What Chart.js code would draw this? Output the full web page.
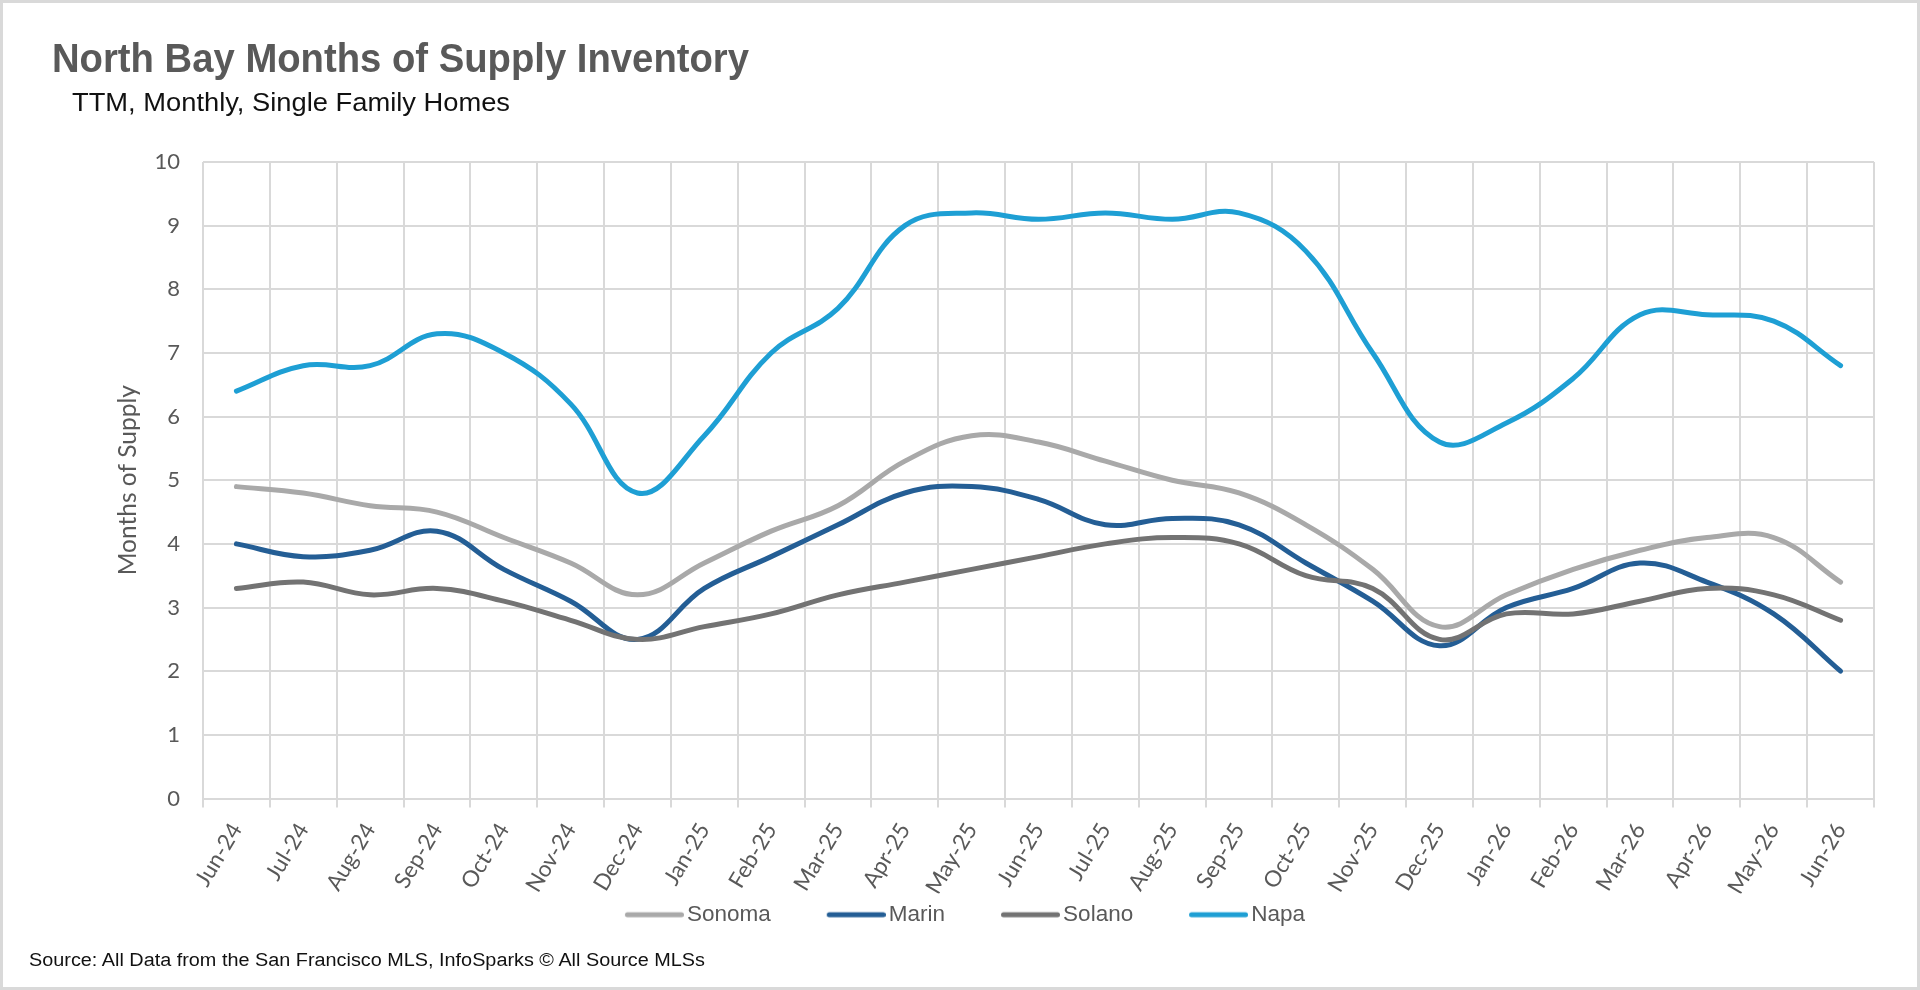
<!DOCTYPE html>
<html>
<head>
<meta charset="utf-8">
<script src="https://cdn.jsdelivr.net/npm/chart.js@4.4.1/dist/chart.umd.min.js"></script>
<style>
  html, body { margin: 0; padding: 0; background: #fff; }
  #frame { position: relative; width: 1920px; height: 990px; overflow: hidden; background: #fff; }
  #c { position: absolute; left: 0; top: 0; }
  #border { position: absolute; left: 0; top: 0; width: 1920px; height: 990px; box-sizing: border-box; border: 3px solid #d9d9d9; pointer-events: none; }
  .t { position: absolute; white-space: nowrap; font-family: "Liberation Sans", Arial, sans-serif; line-height: 1; transform-origin: 0 0; }
  #title { left: 52px; top: 38px; font-size: 40px; font-weight: bold; color: #595959; }
  #subtitle { left: 72px; top: 89px; font-size: 26.5px; color: #111; }
  #footer { left: 29px; top: 951px; font-size: 18px; color: #111; }
</style>
</head>
<body>
<div id="frame">
  <canvas id="c" width="1920" height="990"></canvas>
  <div class="t" id="title">North Bay Months of Supply Inventory</div>
  <div class="t" id="subtitle">TTM, Monthly, Single Family Homes</div>
  <div class="t" id="footer">Source: All Data from the San Francisco MLS, InfoSparks © All Source MLSs</div>
  <div id="border"></div>
</div>
<script>
const categories = ['Jun-24','Jul-24','Aug-24','Sep-24','Oct-24','Nov-24','Dec-24','Jan-25','Feb-25','Mar-25','Apr-25','May-25','Jun-25','Jul-25','Aug-25','Sep-25','Oct-25','Nov-25','Dec-25','Jan-26','Feb-26','Mar-26','Apr-26','May-26','Jun-26'];
const sonoma = [4.9, 4.8, 4.6, 4.5, 4.1, 3.7, 3.2, 3.7, 4.2, 4.6, 5.3, 5.7, 5.6, 5.3, 5.0, 4.8, 4.3, 3.6, 2.7, 3.2, 3.6, 3.9, 4.1, 4.1, 3.4];
const marin  = [4.0, 3.8, 3.9, 4.2, 3.6, 3.1, 2.5, 3.3, 3.8, 4.3, 4.8, 4.9, 4.7, 4.3, 4.4, 4.3, 3.7, 3.1, 2.4, 3.0, 3.3, 3.7, 3.4, 2.9, 2.0];
const solano = [3.3, 3.4, 3.2, 3.3, 3.1, 2.8, 2.5, 2.7, 2.9, 3.2, 3.4, 3.6, 3.8, 4.0, 4.1, 4.0, 3.5, 3.3, 2.5, 2.9, 2.9, 3.1, 3.3, 3.2, 2.8];
const napa   = [6.4, 6.8, 6.8, 7.3, 7.0, 6.2, 4.8, 5.7, 7.0, 7.7, 9.0, 9.2, 9.1, 9.2, 9.1, 9.2, 8.6, 7.0, 5.6, 5.9, 6.6, 7.6, 7.6, 7.5, 6.8];
const seriesNames = ['Sonoma', 'Marin', 'Solano', 'Napa'];
const seriesColors = ['#A9A9A9', '#245E95', '#737373', '#1E9FD4'];
const yMin = 0, yMax = 10, yStep = 1;
const yTitle = 'Months of Supply';

const seriesData = [sonoma, marin, solano, napa];
const datasets = seriesNames.map((name, i) => ({
  label: name,
  data: seriesData[i],
  order: seriesNames.length - i,   // later series drawn on top, as in the original
  borderColor: seriesColors[i],
  backgroundColor: seriesColors[i],
  borderWidth: 5,
  borderCapStyle: 'round',
  borderJoinStyle: 'round',
  pointRadius: 0,
  pointHoverRadius: 0,
  tension: 0.4,
  fill: false
}));

// legend swatch: a 59px line ending just before the label text
const LEGEND_FONT = 22.5, SWATCH_LEN = 59, BOX_W = 96.75;
function legendSwatch(color) {
  const ext = LEGEND_FONT / 2 - 3;
  const c = document.createElement('canvas');
  c.width = Math.round(BOX_W + 2 * ext);
  c.height = 8;
  const g = c.getContext('2d');
  g.strokeStyle = color; g.lineWidth = 5; g.lineCap = 'round';
  g.beginPath();
  g.moveTo(c.width - SWATCH_LEN + 2.5, 4);
  g.lineTo(c.width - 2.5, 4);
  g.stroke();
  return c;
}

const gridColor = '#d9d9d9';
new Chart(document.getElementById('c'), {
  type: 'line',
  data: { labels: categories, datasets },
  options: {
    responsive: false,
    animation: false,
    devicePixelRatio: 1,
    layout: { padding: { left: 10, right: 46, top: 162, bottom: 54 } },
    plugins: {
      legend: {
        position: 'bottom',
        labels: {
          usePointStyle: true,
          pointStyleWidth: BOX_W,
          padding: 10,
          color: '#595959',
          font: { family: '"Liberation Sans", Arial, sans-serif', size: LEGEND_FONT },
          sort: (a, b) => a.datasetIndex - b.datasetIndex,
          generateLabels(chart) {
            const items = Chart.defaults.plugins.legend.labels.generateLabels(chart);
            items.forEach((it) => { it.pointStyle = legendSwatch(seriesColors[it.datasetIndex]); });
            return items;
          }
        }
      },
      tooltip: { enabled: false }
    },
    scales: {
      x: {
        offset: true,
        grid: { offset: true, color: gridColor, lineWidth: 2, tickLength: 9, drawTicks: true },
        border: { color: gridColor, width: 2 },
        ticks: {
          autoSkip: false, maxRotation: 59, minRotation: 59,
          color: '#595959', padding: 11,
          font: { family: 'Lato, "Open Sans", sans-serif', size: 22.5 }
        },
        afterFit(s) { s.height = 95; }
      },
      y: {
        min: yMin, max: yMax,
        ticks: { stepSize: yStep, color: '#595959', padding: 23,
          font: { family: 'Lato, "Open Sans", sans-serif', size: 22 } },
        grid: { color: gridColor, lineWidth: 2, drawTicks: false },
        border: { display: false },
        title: { display: true, text: yTitle, color: '#595959',
          font: { family: 'Lato, "Open Sans", sans-serif', size: 24.5 },
          padding: { top: 103, bottom: 0 } },
        afterFit(s) { s.width = 193; }
      }
    }
  }
});

function fitWidth(id, w) {
  const el = document.getElementById(id);
  el.style.transform = 'none';
  const r = el.getBoundingClientRect().width;
  if (r > 0) el.style.transform = 'scaleX(' + (w / r) + ')';
}
function fitAll() { fitWidth('title', 697); fitWidth('subtitle', 438); fitWidth('footer', 676); }
fitAll();
if (document.fonts && document.fonts.ready) document.fonts.ready.then(fitAll);
</script>
</body>
</html>
